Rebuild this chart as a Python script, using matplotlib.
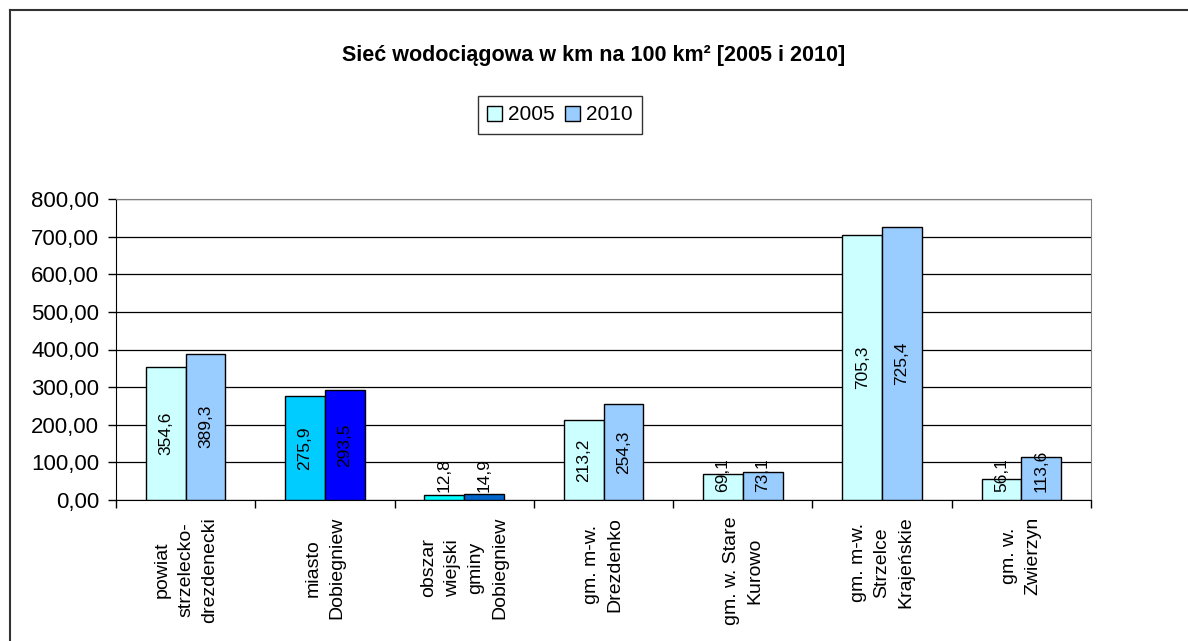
import numpy as np
import matplotlib
matplotlib.use('Agg')
import matplotlib.pyplot as plt
from matplotlib.lines import Line2D
from matplotlib.patches import Patch

# --------------dane-----------------
categories = ['powiat\nstrzelecko-\ndrezdenecki',
              'miasto\nDobiegniew',
              'obszar\nwiejski\ngminy\nDobiegniew',
              'gm. m-w.\nDrezdenko',
              'gm. w. Stare\nKurowo',
              'gm. m-w.\nStrzelce\nKrajeńskie',
              'gm. w.\nZwierzyn']
v2005 = [354.6, 275.9, 12.8, 213.2, 69.1, 705.3, 56.1]
v2010 = [389.3, 293.5, 14.9, 254.3, 73.1, 725.4, 113.6]
labels2005 = ['354,6', '275,9', '12,8', '213,2', '69,1', '705,3', '56,1']
labels2010 = ['389,3', '293,5', '14,9', '254,3', '73,1', '725,4', '113,6']
series_names = ['2005', '2010']
yticks = [0, 100, 200, 300, 400, 500, 600, 700, 800]

# kolory (dla gminy Dobiegniew inne)
col2005 = ['#CCFFFF', '#00CCFF', '#00FFFF', '#CCFFFF', '#CCFFFF', '#CCFFFF', '#CCFFFF']
col2010 = ['#99CCFF', '#0000FF', '#0066CC', '#99CCFF', '#99CCFF', '#99CCFF', '#99CCFF']

plt.rcParams['font.family'] = ['Liberation Sans', 'DejaVu Sans']

fig = plt.figure(figsize=(11.88, 6.41), dpi=100)
ax = fig.add_axes([116 / 1188, 1 - 500 / 641, (1091 - 116) / 1188, 301 / 641])

x = np.arange(len(categories))
w = 0.286
b1 = ax.bar(x - w / 2, v2005, w, color=col2005, edgecolor='black', linewidth=1, zorder=3)
b2 = ax.bar(x + w / 2, v2010, w, color=col2010, edgecolor='black', linewidth=1, zorder=3)

# etykiety danych
for bars, labs in [(b1, labels2005), (b2, labels2010)]:
    for r, lab in zip(bars, labs):
        h = r.get_height()
        cx = r.get_x() + r.get_width() / 2
        if h < 130:
            ax.text(cx, 22, lab, rotation=90, ha='center', va='bottom', fontsize=12.5, zorder=4)
        else:
            ax.text(cx, h / 2, lab, rotation=90, ha='center', va='center', fontsize=12.5, zorder=4)

ax.set_xlim(-0.5, len(categories) - 0.5)
ax.set_ylim(0, 800)
ax.set_yticks(yticks)
ax.set_yticklabels(['%d,00' % t for t in yticks], fontsize=16)
ax.yaxis.grid(True, color='black', linewidth=0.9, zorder=0)

ax.set_xticks(np.arange(len(categories) + 1) - 0.5)
ax.set_xticklabels([])
ax.set_xticks(x, categories, minor=True, rotation=90, fontsize=14)
for t in ax.get_xticklabels(minor=True):
    t.set_linespacing(1.5)
ax.tick_params(axis='x', which='minor', length=0, pad=12)
ax.tick_params(axis='x', which='major', length=6, direction='out', width=1)
ax.tick_params(axis='y', length=6, direction='out', width=1, pad=6)

for s in ['top', 'right']:
    ax.spines[s].set_color('#808080')
for s in ['left', 'bottom']:
    ax.spines[s].set_color('black')

fig.text(0.5, 1 - 55 / 641, 'Sieć wodociągowa w km na 100 km² [2005 i 2010]',
         ha='center', va='center', fontsize=15.5, fontweight='bold')

handles = [Patch(facecolor='#CCFFFF', edgecolor='black'),
           Patch(facecolor='#99CCFF', edgecolor='black')]
leg = fig.legend(handles, series_names, loc='center', bbox_to_anchor=(560 / 1188, 1 - 115 / 641),
                 ncol=2, fontsize=15, frameon=True, fancybox=False, handlelength=0.7,
                 handleheight=0.7, handletextpad=0.3, columnspacing=0.5, borderpad=0.45,
                 borderaxespad=0)
leg.get_frame().set_edgecolor('black')
leg.get_frame().set_linewidth(1)

# ramka wykresu
fig.add_artist(Line2D([10 / 1188, 10 / 1188], [0, 1 - 10 / 641], color='#333333', linewidth=1.5))
fig.add_artist(Line2D([10 / 1188, 1], [1 - 10 / 641, 1 - 10 / 641], color='#333333', linewidth=1.5))

fig.savefig('out.png', dpi=100)
